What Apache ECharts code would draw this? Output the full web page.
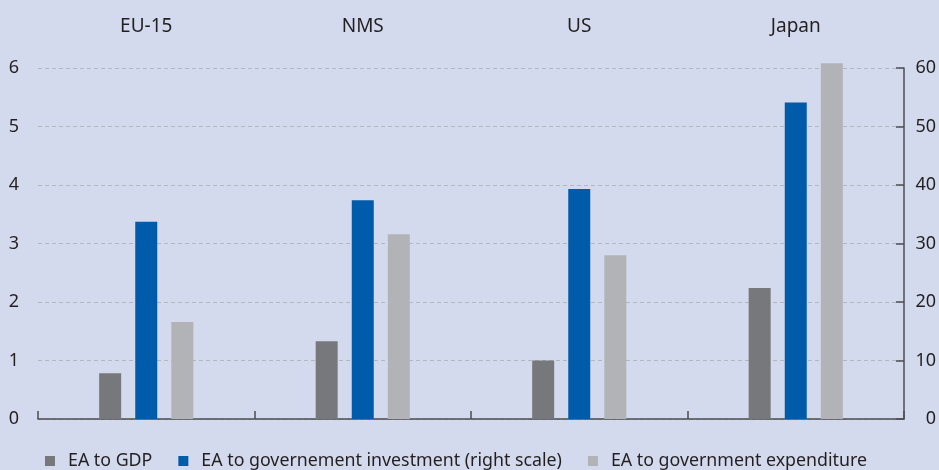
<!DOCTYPE html>
<html>
<head>
<meta charset="utf-8">
<script src="https://cdn.jsdelivr.net/npm/echarts@6/dist/echarts.min.js"></script>
<style>
html,body{margin:0;padding:0;background:#d4daed;}
#chart{width:939px;height:470px;}
</style>
</head>
<body>
<div id="chart"></div>
<script>
var categories = ['EU-15', 'NMS', 'US', 'Japan'];
var eaToGdp = [0.78, 1.33, 1.0, 2.24];
var eaToGovInvestment = [33.7, 37.4, 39.3, 54.1];
var eaToGovExpenditure = [1.66, 3.16, 2.80, 6.08];
var seriesNames = ['EA to GDP', 'EA to governement investment (right scale)', 'EA to government expenditure'];

var FONT = 'Noto Sans';
var TXT = '#231f20';
var chart = echarts.init(document.getElementById('chart'));
chart.setOption({
  backgroundColor: '#d4daed',
  animation: false,
  textStyle: { fontFamily: FONT, color: TXT },
  legend: {
    left: 45, top: 450, padding: 0,
    icon: 'rect', itemWidth: 10, itemHeight: 10, itemGap: 26,
    textStyle: { fontFamily: FONT, fontSize: 17.8, lineHeight: 22, color: TXT, padding: [0, 0, 0, 8] },
    data: seriesNames
  },
  grid: { left: 38, right: 34, top: 68, bottom: 51 },
  xAxis: [{
    type: 'category', data: categories, position: 'bottom',
    axisLine: { lineStyle: { color: '#4d4d4f', width: 1.5 } },
    axisTick: { show: true, inside: true, length: 8, lineStyle: { color: '#4d4d4f', width: 1.5 } },
    axisLabel: { show: false }
  }, {
    type: 'category', data: categories, position: 'top',
    axisLine: { show: false }, axisTick: { show: false },
    axisLabel: { margin: 32, fontSize: 19, color: TXT, fontFamily: FONT }
  }],
  yAxis: [{
    type: 'value', min: 0, max: 6, interval: 1, position: 'left',
    axisLine: { show: false }, axisTick: { show: false },
    axisLabel: { margin: 19, fontSize: 18, color: TXT, fontFamily: FONT },
    splitLine: { show: true, lineStyle: { color: '#b4b7be', type: [4, 3], width: 1 } }
  }, {
    type: 'value', min: 0, max: 60, interval: 10, position: 'right',
    axisLine: { show: true, lineStyle: { color: '#4d4d4f', width: 1.5 } },
    axisTick: { show: true, inside: true, length: 8, lineStyle: { color: '#4d4d4f', width: 1.5 } },
    axisLabel: { margin: 32, align: 'right', fontSize: 18, color: TXT, fontFamily: FONT },
    splitLine: { show: false }
  }],
  series: [{
    name: seriesNames[0], type: 'bar', xAxisIndex: 0, yAxisIndex: 0,
    data: eaToGdp, barWidth: 22, barGap: '64%', clip: false,
    itemStyle: { color: '#77787b' }
  }, {
    name: seriesNames[1], type: 'bar', xAxisIndex: 0, yAxisIndex: 1,
    data: eaToGovInvestment, barWidth: 22, barGap: '64%', clip: false,
    itemStyle: { color: '#005baa' }
  }, {
    name: seriesNames[2], type: 'bar', xAxisIndex: 0, yAxisIndex: 0,
    data: eaToGovExpenditure, barWidth: 22, barGap: '64%', clip: false,
    itemStyle: { color: '#b1b3b6' }
  }]
});
</script>
</body>
</html>
